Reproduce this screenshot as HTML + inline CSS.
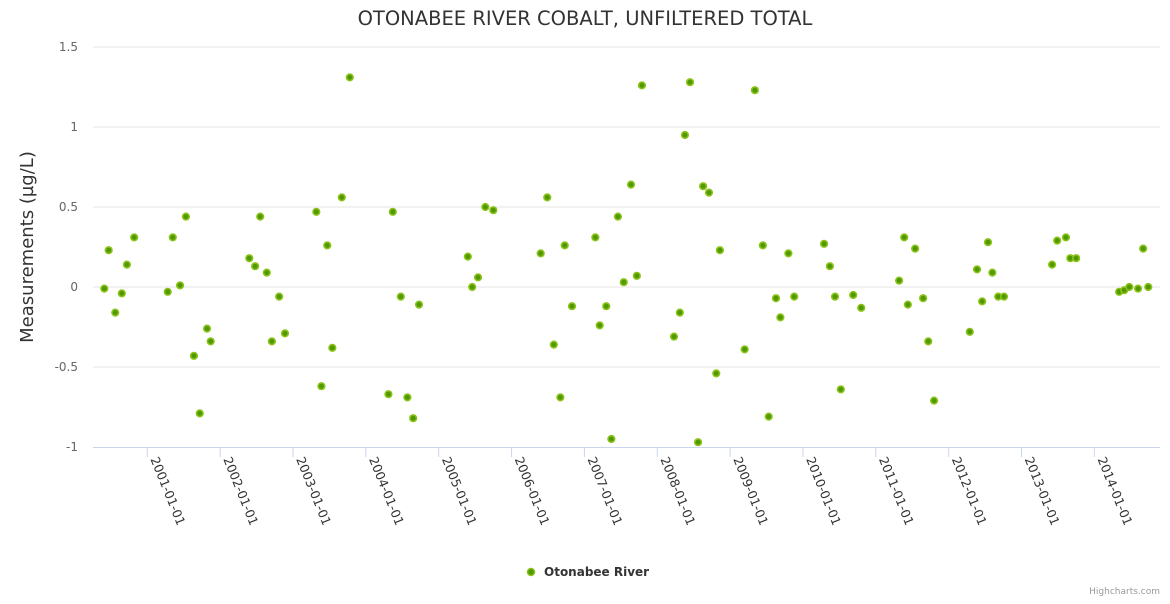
<!DOCTYPE html>
<html><head><meta charset="utf-8"><style>
body{margin:0;background:#fff;font-family:"DejaVu Sans",sans-serif}
svg text{font-family:"DejaVu Sans","Liberation Sans",sans-serif}
</style></head><body>
<svg id="chart" width="1170" height="600" xmlns="http://www.w3.org/2000/svg">
<rect width="1170" height="600" fill="#fff"/>
<text x="585" y="25" text-anchor="middle" font-size="19.5" fill="#333">OTONABEE RIVER COBALT, UNFILTERED TOTAL</text>
<text transform="translate(33,247) rotate(-90)" text-anchor="middle" font-size="18" fill="#333">Measurements (µg/L)</text>
<g id="grid"></g><g id="xaxis"></g><g id="points"></g>
<g>
<circle cx="531" cy="572" r="3.5" fill="#4f9a00" stroke="#8cc21a" stroke-width="1.5"/>
<text x="544" y="576" font-size="12" font-weight="bold" fill="#333">Otonabee River</text>
</g>
<text x="1160" y="594" text-anchor="end" font-size="9" fill="#999">Highcharts.com</text>
</svg>
<script>
const yTicks=[1.5,1,0.5,0,-0.5,-1];
const yTickLabels=["1.5","1","0.5","0","-0.5","-1"];
const xTicks=[2001,2002,2003,2004,2005,2006,2007,2008,2009,2010,2011,2012,2013,2014];
const xTickLabels=xTicks.map(y=>y+"-01-01");
const years=[2000.41,2000.47,2000.56,2000.65,2000.72,2000.82,2001.28,2001.35,2001.45,2001.53,2001.64,2001.72,2001.82,2001.87,2002.40,2002.48,2002.55,2002.64,2002.71,2002.81,2002.89,2003.32,2003.39,2003.47,2003.54,2003.67,2003.78,2004.31,2004.37,2004.48,2004.57,2004.65,2004.73,2005.40,2005.46,2005.54,2005.64,2005.75,2006.40,2006.49,2006.58,2006.67,2006.73,2006.83,2007.15,2007.21,2007.30,2007.37,2007.46,2007.54,2007.64,2007.72,2007.79,2008.23,2008.31,2008.38,2008.45,2008.56,2008.63,2008.71,2008.81,2008.86,2009.20,2009.34,2009.45,2009.53,2009.63,2009.69,2009.80,2009.88,2010.29,2010.37,2010.44,2010.52,2010.69,2010.80,2011.32,2011.39,2011.44,2011.54,2011.65,2011.72,2011.80,2012.29,2012.39,2012.46,2012.54,2012.60,2012.68,2012.76,2013.42,2013.49,2013.61,2013.67,2013.75,2014.34,2014.41,2014.48,2014.60,2014.67,2014.74];
const values=[-0.01,0.23,-0.16,-0.04,0.14,0.31,-0.03,0.31,0.01,0.44,-0.43,-0.79,-0.26,-0.34,0.18,0.13,0.44,0.09,-0.34,-0.06,-0.29,0.47,-0.62,0.26,-0.38,0.56,1.31,-0.67,0.47,-0.06,-0.69,-0.82,-0.11,0.19,0.00,0.06,0.50,0.48,0.21,0.56,-0.36,-0.69,0.26,-0.12,0.31,-0.24,-0.12,-0.95,0.44,0.03,0.64,0.07,1.26,-0.31,-0.16,0.95,1.28,-0.97,0.63,0.59,-0.54,0.23,-0.39,1.23,0.26,-0.81,-0.07,-0.19,0.21,-0.06,0.27,0.13,-0.06,-0.64,-0.05,-0.13,0.04,0.31,-0.11,0.24,-0.07,-0.34,-0.71,-0.28,0.11,-0.09,0.28,0.09,-0.06,-0.06,0.14,0.29,0.31,0.18,0.18,-0.03,-0.02,0.00,-0.01,0.24,0.00];
const NS="http://www.w3.org/2000/svg";
const L=93,R=1160;
const xS=y=>147.3+(y-2001)*72.85;
const yS=v=>287-v*160;
function mk(t,a,p){const e=document.createElementNS(NS,t);for(const k in a)e.setAttribute(k,a[k]);p.appendChild(e);return e;}
const grid=document.getElementById('grid');
yTicks.forEach((v,i)=>{
 if(v!==-1){const g=mk('line',{x1:L,x2:R,y1:yS(v),y2:yS(v),stroke:'#e6e6e6','stroke-width':1},grid);
 
 }
 const t=mk('text',{x:78,y:yS(v)+4,'text-anchor':'end','font-size':12,fill:'#666'},grid);
 t.textContent=yTickLabels[i];
 
 
});
const xa=document.getElementById('xaxis');
const al=mk('line',{x1:L,x2:R,y1:447.5,y2:447.5,stroke:'#ccd6eb','stroke-width':1},xa);


xTicks.forEach((y,i)=>{
 const x=xS(y);
 const tk=mk('line',{x1:x,x2:x,y1:447,y2:457,stroke:'#ccd6eb'},xa);
 
 
 const t=mk('text',{transform:`translate(${x+3},${459}) rotate(68)`,'font-size':12.5,fill:'#333'},xa);
 t.textContent=xTickLabels[i];
 
 
});
const pts=document.getElementById('points');
years.forEach((y,i)=>{
 const c=mk('circle',{cx:xS(y),cy:yS(values[i]),r:3.3,fill:'#4f9a00',stroke:'#8cc21a','stroke-width':1.6},pts);
 
 
});
</script>
</body></html>
